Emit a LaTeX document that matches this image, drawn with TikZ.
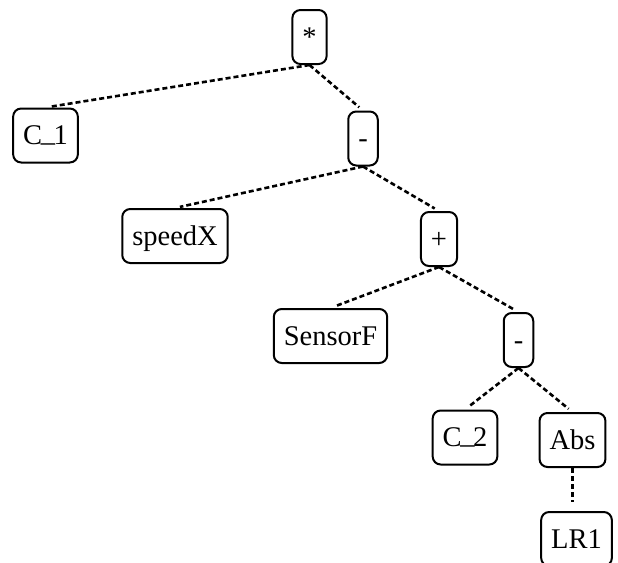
\documentclass[tikz,border=0pt]{standalone}
\usepackage{fontspec}
\setmainfont{Liberation Serif}
\newcommand{\usc}{\kern-0.05em\raisebox{0.12em}{\_}\kern-0.05em}
\begin{document}
\begin{tikzpicture}[x=1pt,y=-1pt,
  tnode/.style={draw, line width=2pt, rounded corners=8pt, inner xsep=10pt, inner ysep=0pt,
    minimum height=54pt, text height=18.9pt, text depth=0pt,
    font=\fontsize{28.5}{30}\selectfont},
  edge/.style={line width=2.6pt, dash pattern=on 5pt off 3pt, shorten >=5pt}]
\useasboundingbox (0,0) rectangle (618,562);
\node[tnode] (star) at (309.5,37) {*};
\node[tnode] (c1) at (45.5,135.5) {C\usc 1};
\node[tnode] (m1) at (363,138.5) {-};
\node[tnode] (speedx) at (175,236) {speedX};
\node[tnode] (plus) at (439,239) {+};
\node[tnode] (sensorf) at (330.5,336) {SensorF};
\node[tnode] (m2) at (518.5,340) {-};
\node[tnode] (c2) at (465,437.5) {C\usc 2};
\node[tnode] (abs) at (572.5,440) {Abs};
\node[tnode] (lr1) at (576.5,539) {LR1};
\draw[edge] (star.south) -- (c1.north);
\draw[edge] (star.south) -- (m1.north);
\draw[edge] (m1.south) -- (speedx.north);
\draw[edge] (m1.south) -- (plus.north);
\draw[edge] (plus.south) -- (sensorf.north);
\draw[edge] (plus.south) -- (m2.north);
\draw[edge] (m2.south) -- (c2.north);
\draw[edge] (m2.south) -- (abs.north);
\draw[edge, shorten >=9pt] (abs.south) -- (abs.south |- lr1.north);
\end{tikzpicture}
\end{document}
